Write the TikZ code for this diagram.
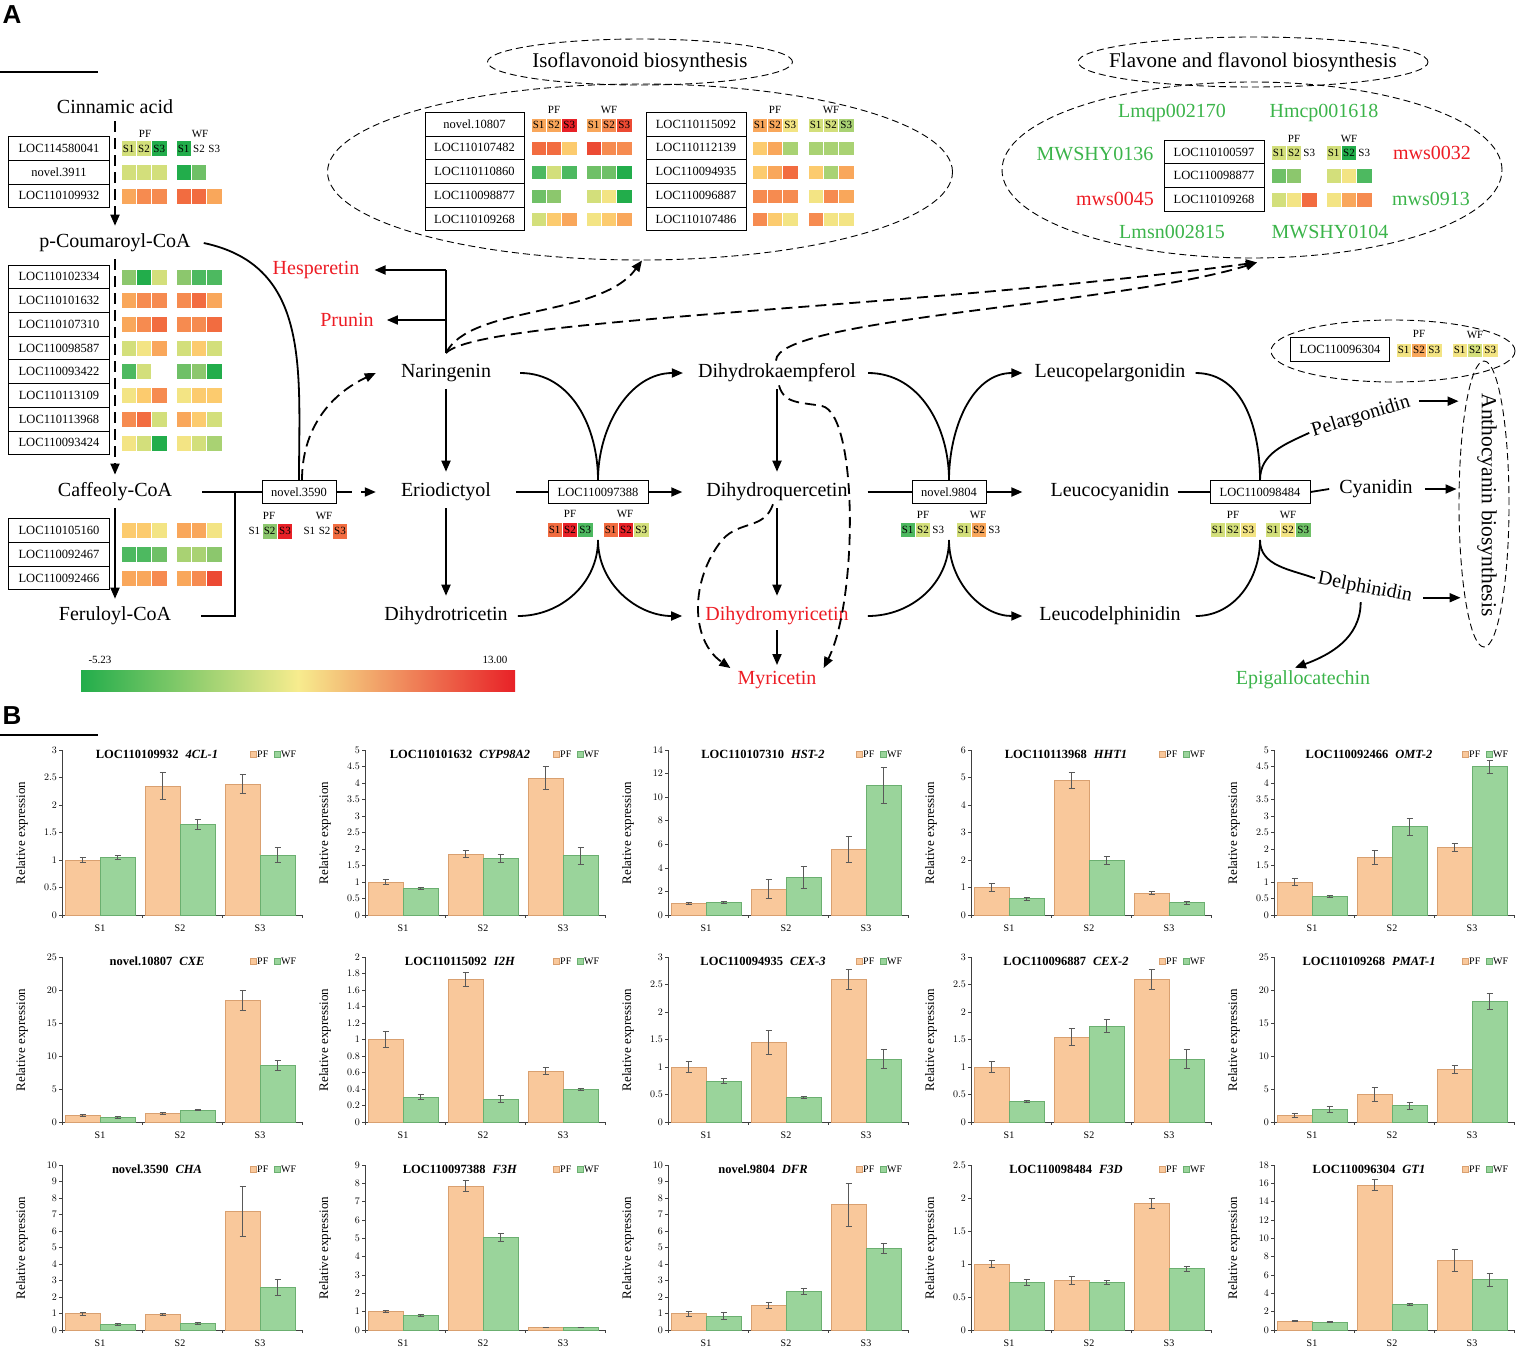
\documentclass[tikz,border=0pt]{standalone}
\usepackage{fontspec}
\setmainfont{Liberation Serif}
\setsansfont{Liberation Sans}
\usetikzlibrary{arrows.meta,shapes.geometric,positioning}
% heat map colours
\definecolor{hgA}{HTML}{22AD4B}
\definecolor{hgB}{HTML}{4DB960}
\definecolor{hgC}{HTML}{6FC067}
\definecolor{hgD}{HTML}{8CC76D}
\definecolor{hgE}{HTML}{A9D273}
\definecolor{hyg}{HTML}{D3DF7B}
\definecolor{hyl}{HTML}{F3E484}
\definecolor{hlo}{HTML}{FCCB6E}
\definecolor{hor}{HTML}{F9A75B}
\definecolor{hob}{HTML}{F68B50}
\definecolor{hrd}{HTML}{F26C40}
\definecolor{hre}{HTML}{EC4A33}
\definecolor{hrr}{HTML}{E82127}
\definecolor{cbmid}{HTML}{F7EC8E}
\definecolor{txtgreen}{HTML}{3BB44A}
\definecolor{txtred}{HTML}{ED1C24}
\definecolor{pffill}{HTML}{F9C89B}
\definecolor{pfline}{HTML}{D9A070}
\definecolor{wffill}{HTML}{9AD49B}
\definecolor{wfline}{HTML}{6BAF70}
\tikzset{
  cpd/.style={font=\fontsize{20}{22}\selectfont, inner sep=3pt},
  genebox/.style={draw, line width=0.9pt, minimum height=23.7pt, inner sep=0pt, font=\fontsize{12.5}{14}\selectfont},
  cellfont/.style={font=\fontsize{11}{12}\selectfont, inner sep=0pt},
  smalllab/.style={font=\fontsize{11}{12}\selectfont, inner sep=0pt},
  link/.style={line width=1.8pt},
  flow/.style={link, -{Triangle[length=11pt,width=9pt]}},
  dflow/.style={flow, dash pattern=on 11pt off 6pt},
  oval/.style={draw, ellipse, inner sep=0pt, line width=0.9pt, dash pattern=on 7pt off 4pt},
  axisline/.style={line width=0.6pt, black!75},
  ticklab/.style={font=\fontsize{10}{11}\selectfont, inner sep=0pt},
  charttitle/.style={font=\bfseries\fontsize{12.5}{13}\selectfont, inner sep=0pt},
  ylab/.style={font=\fontsize{13}{14}\selectfont, inner sep=0pt},
  pfbar/.style={fill=pffill, draw=pfline, line width=0.5pt},
  wfbar/.style={fill=wffill, draw=wfline, line width=0.5pt},
  errbar/.style={line width=0.6pt, black!65},
}
% heat map cells: x, y centre, height, colours
\newcommand{\hmcells}[4]{%
  \foreach \hc [count=\hi from 0] in {#4}
    \path[fill=\hc, draw=white, line width=0.5pt] ({#1+15.3*\hi},{#2-#3/2}) rectangle ++(15.3,#3);}
\newcommand{\hmtext}[4]{\hmcells{#1}{#2}{#3}{#4}%
  \foreach \hs [count=\hi from 0] in {S1,S2,S3}
    \node[cellfont] at ({#1+15.3*\hi+7.65},#2) {\hs};}
\newcommand{\hmrow}[6]{\hmcells{#1}{#3}{#4}{#5}\hmcells{#2}{#3}{#4}{#6}}
% column of gene boxes: prefix, x, first y, width, labels
\newcommand{\genecol}[5]{%
  \foreach \g [count=\gi from 0] in {#5}
    \node[genebox, minimum width=#4] (#1\gi) at (#2,{#3+23.7*\gi}) {\g};}
% bars: x0, base, ymax, offset, style, value/error list
\newcommand{\bars}[6]{%
  \foreach \bv/\be [count=\bi from 0] in {#6}{%
    \pgfmathsetmacro{\barx}{#1+#4+80*\bi}
    \draw[#5] (\barx,#2) rectangle (\barx+35,{#2-\bv*165/#3});
    \draw[errbar] (\barx+17.5,{#2-(\bv-\be)*165/#3}) -- (\barx+17.5,{#2-(\bv+\be)*165/#3});
    \draw[errbar] (\barx+14.5,{#2-(\bv+\be)*165/#3}) -- ++(6,0);
    \draw[errbar] (\barx+14.5,{#2-(\bv-\be)*165/#3}) -- ++(6,0);}}
% chart: x0, base, ymax, step, id, gene, PF, WF
\newcommand{\chart}[8]{%
  \draw[axisline] (#1,#2-165) -- (#1,#2) -- (#1+240,#2);
  \foreach \t in {0,#4,...,#3}{%
    \draw[axisline] (#1-3,{#2-\t*165/#3}) -- (#1,{#2-\t*165/#3});
    \node[ticklab, anchor=east] at (#1-5,{#2-\t*165/#3}) {\pgfmathprintnumber{\t}};}
  \foreach \k in {0,1,2,3} \draw[axisline] (#1+80*\k,#2) -- ++(0,3);
  \foreach \s [count=\k] in {S1,S2,S3} \node[ticklab] at (#1+80*\k-42,#2+13) {\s};
  \node[ylab, rotate=90] at (#1-40,#2-82) {Relative expression};
  \node[charttitle] at (#1+95,#2-161) {#5\hspace{7pt}\textit{#6}};
  \path[pfbar] (#1+188,#2-164) rectangle ++(6,6);
  \node[ticklab, anchor=west] at (#1+195,#2-161) {PF};
  \path[wfbar] (#1+212,#2-164) rectangle ++(6,6);
  \node[ticklab, anchor=west] at (#1+219,#2-161) {WF};
  \bars{#1}{#2}{#3}{3}{pfbar}{#7}
  \bars{#1}{#2}{#3}{38}{wfbar}{#8}}
\begin{document}
\begin{tikzpicture}[x=1pt,y=-1pt]
\useasboundingbox (0,0) rectangle (1517,1349);
% panel letters
\node[font=\sffamily\bfseries\fontsize{26}{28}\selectfont, inner sep=0pt] (lblA) at (12,15) {A};
\draw[line width=1.4pt] (0,72) -- (98,72);
\node[font=\sffamily\bfseries\fontsize{26}{28}\selectfont, inner sep=0pt] (lblB) at (12,716) {B};
\draw[line width=1.4pt] (0,735) -- (98,735);

% ---------- phenylpropanoid column
\node[cpd] (cin) at (115,107) {Cinnamic acid};
\node[cpd] (pcou) at (115,243) {p-Coumaroyl-CoA};
\node[cpd] (caf) at (115,492) {Caffeoly-CoA};
\node[cpd] (fer) at (115,616) {Feruloyl-CoA};
\draw[dflow] ([yshift=-4pt]cin.south) -- ([yshift=5pt]pcou.north);
\draw[dflow] ([yshift=-4pt]pcou.south) -- ([yshift=5pt]caf.north);
\draw[flow] ([yshift=-4pt]caf.south) -- ([yshift=5pt]fer.north);

\genecol{cg}{59}{148.5}{101pt}{LOC114580041,novel.3911,LOC110109932}
\node[smalllab] (cpf) at (145,134) {PF};
\node[smalllab] (cwf) at (200,134) {WF};
\hmtext{121}{148.5}{16}{hyg,hyg,hgA}
\hmtext{176}{148.5}{16}{hgA,none,none}
\hmrow{121}{176}{172.2}{16}{hyg,hyg,hyg}{hgA,hgC,none}
\hmrow{121}{176}{195.9}{16}{hor,hob,hob}{hrd,hrd,hor}

\genecol{pg}{59}{276.9}{101pt}{LOC110102334,LOC110101632,LOC110107310,LOC110098587,LOC110093422,LOC110113109,LOC110113968,LOC110093424}
\hmrow{121}{176}{276.9}{16}{hgD,hgA,hyg}{hgD,hgB,hgB}
\hmrow{121}{176}{300.6}{16}{hor,hob,hob}{hob,hrd,hor}
\hmrow{121}{176}{324.3}{16}{hor,hob,hrd}{hob,hob,hrd}
\hmrow{121}{176}{348.0}{16}{hyg,hyl,hor}{hyg,hlo,hyg}
\hmrow{121}{176}{371.7}{16}{hgB,hyg,none}{hgC,hgD,hgA}
\hmrow{121}{176}{395.4}{16}{hyl,hlo,hob}{hyl,hlo,hlo}
\hmrow{121}{176}{419.1}{16}{hob,hrd,hyg}{hor,hlo,hyg}
\hmrow{121}{176}{442.8}{16}{hyl,hyg,hgA}{hyl,hyg,hgE}

\genecol{fg}{59}{530.5}{101pt}{LOC110105160,LOC110092467,LOC110092466}
\hmrow{121}{176}{530.5}{16}{hlo,hlo,hyl}{hor,hor,hyl}
\hmrow{121}{176}{554.2}{16}{hgB,hgB,hgC}{hgE,hgE,hgD}
\hmrow{121}{176}{577.9}{16}{hor,hor,hob}{hor,hob,hre}

% ---------- enzyme boxes on the main route
\node[genebox, minimum width=74pt, minimum height=23pt] (e1) at (299,492) {novel.3590};
\node[genebox, minimum width=100pt, minimum height=23pt] (e2) at (598,492) {LOC110097388};
\node[genebox, minimum width=74pt, minimum height=23pt] (e3) at (949,492) {novel.9804};
\node[genebox, minimum width=100pt, minimum height=23pt] (e4) at (1260,492) {LOC110098484};
\coordinate (jn) at (235,492);
\draw[link] ([xshift=27pt]caf.east) -- (e1.west);
\draw[link] ([xshift=27pt]fer.east) -| (jn);
\draw[link] ([xshift=10pt]pcou.east) to[out=-12,in=90,looseness=1.1] (e1.north);

\node[smalllab] (e1pf) at (269,516) {PF};
\node[smalllab] (e1wf) at (324,516) {WF};
\hmtext{246.7}{531}{16}{none,hgD,hrr}
\hmtext{301.7}{531}{16}{none,none,hrd}
\node[smalllab] (e2pf) at (570,514) {PF};
\node[smalllab] (e2wf) at (625,514) {WF};
\hmtext{547}{530}{15}{hrd,hrr,hgB}
\hmtext{603}{530}{15}{hrd,hrr,hyg}
\node[smalllab] (e3pf) at (923,515) {PF};
\node[smalllab] (e3wf) at (978,515) {WF};
\hmtext{900}{530}{15}{hgB,hyg,none}
\hmtext{956}{530}{15}{hyg,hor,none}
\node[smalllab] (e4pf) at (1233,515) {PF};
\node[smalllab] (e4wf) at (1288,515) {WF};
\hmtext{1210}{530}{15}{hyg,hyg,hyl}
\hmtext{1265}{530}{15}{hyg,hyl,hgC}

% ---------- flavonoid compounds
\node[cpd] (nar) at (446,373) {Naringenin};
\node[cpd] (eri) at (446,492) {Eriodictyol};
\node[cpd] (dtr) at (446,616) {Dihydrotricetin};
\node[cpd, text=txtred] (hes) at (316,270) {Hesperetin};
\node[cpd, text=txtred] (pru) at (347,320) {Prunin};
\node[cpd] (dhk) at (777,373) {Dihydrokaempferol};
\node[cpd] (dhq) at (777,492) {Dihydroquercetin};
\node[cpd, text=txtred] (dhm) at (777,616) {Dihydromyricetin};
\node[cpd, text=txtred] (myr) at (777,680) {Myricetin};
\node[cpd] (lpg) at (1110,373) {Leucopelargonidin};
\node[cpd] (lcy) at (1110,492) {Leucocyanidin};
\node[cpd] (ldp) at (1110,616) {Leucodelphinidin};
\node[cpd, rotate=17] (pel) at (1361,417) {Pelargonidin};
\node[cpd] (cya) at (1376,489) {Cyanidin};
\node[cpd, rotate=-11] (del) at (1365,588) {Delphinidin};
\node[cpd, text=txtgreen] (egc) at (1303,680) {Epigallocatechin};

\coordinate (nartop) at (446,353);
\coordinate (hesbr) at (446,270);
\coordinate (prubr) at (446,320);
\draw[link] (nartop) -- (hesbr);
\draw[flow] (hesbr) -- ([xshift=12pt]hes.east);
\draw[flow] (prubr) -- ([xshift=10pt]pru.east);

\draw[dflow, dash pattern=on 16pt off 9pt] (e1.east) -- ([xshift=-22pt]eri.west);
\draw[dflow] ([xshift=3pt]e1.north) to[out=90,in=205] ([xshift=-22pt]nar.west);
\draw[flow, shorten <=4pt, shorten >=8pt] (nar.south) -- (eri.north);
\draw[flow, shorten <=4pt, shorten >=8pt] (eri.south) -- (dtr.north);

% second box
\coordinate (e2s) at (598,540);
\draw[link] ([xshift=22pt]eri.east) -- (e2.west);
\draw[flow] (e2.east) -- ([xshift=-21pt]dhq.west);
\draw[link] ([xshift=26pt]nar.east) to[out=0,in=90] (e2.north);
\draw[flow] (e2.north) to[out=90,in=180] ([xshift=-12pt]dhk.west);
\draw[link] ([xshift=7pt]dtr.east) to[out=0,in=-90] (e2s);
\draw[flow] (e2s) to[out=-90,in=180] ([xshift=-20pt]dhm.west);

\draw[flow, shorten <=4pt, shorten >=8pt] (dhk.south) -- (dhq.north);
\draw[flow, shorten <=4pt, shorten >=8pt] (dhq.south) -- (dhm.north);
\draw[flow, shorten <=2pt, shorten >=3pt] (dhm.south) -- (myr.north);
\draw[dflow] ([xshift=2pt]dhk.south) .. controls (784,404) and (800,402) .. (822,406)
  .. controls (858,414) and (858,600) .. ([xshift=4pt]myr.north east);
\draw[dflow] ([xshift=-4pt]dhq.south) .. controls (764,530) and (740,520) .. (722,540)
  .. controls (690,580) and (690,640) .. ([xshift=-4pt]myr.north west);

% third box
\coordinate (e3s) at (949,540);
\draw[link] ([xshift=17pt]dhq.east) -- (e3.west);
\draw[flow] (e3.east) -- ([xshift=-25pt]lcy.west);
\draw[link] ([xshift=9pt]dhk.east) to[out=0,in=90] (e3.north);
\draw[flow] (e3.north) to[out=90,in=180] ([xshift=-9pt]lpg.west);
\draw[link] ([xshift=16pt]dhm.east) to[out=0,in=-90] (e3s);
\draw[flow] (e3s) to[out=-90,in=180] ([xshift=-14pt]ldp.west);

% fourth box
\coordinate (e4s) at (1260,540);
\draw[link] ([xshift=5pt]lcy.east) -- (e4.west);
\draw[link] (e4.east) -- ([xshift=-7pt]cya.west);
\draw[link] ([xshift=7pt]lpg.east) to[out=0,in=90] (e4.north);
\draw[link] (e4.north) to[out=90,in=205] (pel.west);
\draw[link] ([xshift=12pt]ldp.east) to[out=0,in=-90] (e4s);
\draw[link] (e4s) to[out=-90,in=160] (del.west);
\draw[flow] ([xshift=-2pt,yshift=-2pt]del.south) to[out=-90,in=20] ([xshift=-8pt]egc.north);

% ---------- anthocyanin
\node[oval, minimum width=50pt, minimum height=286pt] (antho) at (1484,504) {};
\node[cpd, rotate=-90, font=\fontsize{21.5}{23}\selectfont] (anthl) at (1487,505) {Anthocyanin biosynthesis};
\draw[flow] ([xshift=6pt]pel.east) -- (antho.west |- pel.east);
\draw[flow] ([xshift=9pt]cya.east) -- ([xshift=-2pt]antho.west |- cya.east);
\draw[flow] ([xshift=8pt]del.east) -- ([xshift=2pt]antho.west |- del.east);
\node[oval, minimum width=244pt, minimum height=62pt] (antt) at (1393,351) {};
\node[genebox, minimum width=99pt, minimum height=24pt] (ag0) at (1340,349) {LOC110096304};
\node[smalllab] (apf) at (1419,334) {PF};
\node[smalllab] (awf) at (1475,335) {WF};
\hmtext{1396}{350}{14}{hyl,hor,hyl}
\hmtext{1452}{350}{14}{hyl,hyg,hyl}

% ---------- isoflavonoid
\node[oval, minimum width=305pt, minimum height=46pt] (isot) at (640,62) {};
\node[cpd, font=\fontsize{21}{23}\selectfont] (isol) at (640,62) {Isoflavonoid biosynthesis};
\node[oval, minimum width=625pt, minimum height=176pt] (iso) at (640,172) {};
\genecol{ig}{474.5}{124.2}{99pt}{novel.10807,LOC110107482,LOC110110860,LOC110098877,LOC110109268}
\genecol{jg}{696}{124.2}{100pt}{LOC110115092,LOC110112139,LOC110094935,LOC110096887,LOC110107486}
\node[smalllab] (ipf) at (554,110) {PF};
\node[smalllab] (iwf) at (609,110) {WF};
\node[smalllab] (jpf) at (775,110) {PF};
\node[smalllab] (jwf) at (831,110) {WF};
\hmtext{531}{125}{14}{hor,hor,hrr}
\hmtext{586}{125}{14}{hor,hob,hre}
\hmrow{531}{586}{148.4}{14}{hrd,hrd,hlo}{hre,hob,hob}
\hmrow{531}{586}{172.1}{14}{hgB,hyg,hgB}{hgC,hgC,hgA}
\hmrow{531}{586}{195.8}{14}{hgC,hgD,none}{hyg,hyl,hgA}
\hmrow{531}{586}{219.5}{14}{hyg,hlo,hor}{hyl,hlo,hor}
\hmtext{752}{125}{14}{hor,hor,hyl}
\hmtext{808}{125}{14}{hyg,hyg,hgE}
\hmrow{752}{808}{148.4}{14}{hlo,hor,hgE}{hgE,hgE,hgE}
\hmrow{752}{808}{172.1}{14}{hlo,hor,hrd}{hlo,hgE,hor}
\hmrow{752}{808}{195.8}{14}{hob,hob,hob}{hyl,hob,hor}
\hmrow{752}{808}{219.5}{14}{hob,hlo,hyl}{hob,hyl,hyl}

% ---------- flavone and flavonol
\node[oval, minimum width=350pt, minimum height=50pt] (flvt) at (1253,62) {};
\node[cpd, font=\fontsize{21}{23}\selectfont] (flvl) at (1253,62) {Flavone and flavonol biosynthesis};
\node[oval, minimum width=500pt, minimum height=176pt] (flv) at (1252,170) {};
\genecol{kg}{1214}{152}{100pt}{LOC110100597,LOC110098877,LOC110109268}
\node[smalllab] (kpf) at (1294,139) {PF};
\node[smalllab] (kwf) at (1349,139) {WF};
\hmtext{1271}{152.5}{15}{hyg,hyg,none}
\hmtext{1326}{152.5}{15}{hyg,hgA,none}
\hmrow{1271}{1326}{176}{15}{hgC,hgD,none}{hyg,hyl,hgB}
\hmrow{1271}{1326}{200}{15}{hyg,hyl,hrd}{hyl,hor,hob}
\node[cpd, text=txtgreen] (m1) at (1172,113) {Lmqp002170};
\node[cpd, text=txtgreen] (m2) at (1324,113) {Hmcp001618};
\node[cpd, text=txtgreen] (m3) at (1095,154) {MWSHY0136};
\node[cpd, text=txtred] (m4) at (1432,153) {mws0032};
\node[cpd, text=txtred] (m5) at (1115,199) {mws0045};
\node[cpd, text=txtgreen] (m6) at (1431,199) {mws0913};
\node[cpd, text=txtgreen] (m7) at (1172,232) {Lmsn002815};
\node[cpd, text=txtgreen] (m8) at (1330,232) {MWSHY0104};

% ---------- dashed routes to the side pathways
\draw[dflow] (nartop) .. controls (470,305) and (600,318) .. ([xshift=2pt]iso.south);
\draw[dflow] (nartop) .. controls (480,318) and (900,310) .. ([xshift=5pt,yshift=-4pt]flv.south);
\draw[dflow] ([xshift=-1pt]dhk.north) .. controls (776,318) and (1120,305) .. ([xshift=5pt,yshift=-4pt]flv.south);

% ---------- colour scale
\shade[left color=hgA, right color=hrr, middle color=cbmid] (81,670) rectangle (515,691);
\node[smalllab] (cmin) at (100,660) {-5.23};
\node[smalllab] (cmax) at (495,660) {13.00};

% ---------- B: qRT-PCR
\chart{62}{915}{3}{0.5}{LOC110109932}{4CL-1}{1.0/0.05,2.35/0.25,2.38/0.17}{1.05/0.04,1.65/0.09,1.09/0.14}
\chart{365}{915}{5}{0.5}{LOC110101632}{CYP98A2}{1.0/0.07,1.85/0.1,4.15/0.35}{0.8/0.03,1.72/0.12,1.8/0.25}
\chart{668}{915}{14}{2}{LOC110107310}{HST-2}{1.0/0.1,2.2/0.8,5.6/1.1}{1.1/0.1,3.2/0.9,11.0/1.5}
\chart{971}{915}{6}{1}{LOC110113968}{HHT1}{1.0/0.15,4.9/0.3,0.8/0.05}{0.6/0.05,2.0/0.15,0.45/0.05}
\chart{1274}{915}{5}{0.5}{LOC110092466}{OMT-2}{1.0/0.1,1.75/0.2,2.05/0.12}{0.58/0.03,2.68/0.25,4.5/0.2}
\chart{62}{1122}{25}{5}{novel.10807}{CXE}{1.0/0.2,1.3/0.15,18.5/1.5}{0.7/0.1,1.8/0.1,8.6/0.8}
\chart{365}{1122}{2}{0.2}{LOC110115092}{I2H}{1.0/0.1,1.73/0.09,0.62/0.04}{0.3/0.03,0.28/0.04,0.4/0.01}
\chart{668}{1122}{3}{0.5}{LOC110094935}{CEX-3}{1.0/0.1,1.45/0.22,2.6/0.18}{0.75/0.05,0.45/0.02,1.15/0.18}
\chart{971}{1122}{3}{0.5}{LOC110096887}{CEX-2}{1.0/0.1,1.55/0.15,2.6/0.18}{0.37/0.02,1.75/0.12,1.15/0.18}
\chart{1274}{1122}{25}{5}{LOC110109268}{PMAT-1}{1.0/0.3,4.2/1.0,8.0/0.6}{1.9/0.5,2.5/0.5,18.3/1.2}
\chart{62}{1330}{10}{1}{novel.3590}{CHA}{1.0/0.1,0.95/0.05,7.2/1.5}{0.35/0.05,0.4/0.05,2.6/0.5}
\chart{365}{1330}{9}{1}{LOC110097388}{F3H}{1.0/0.05,7.85/0.3,0.15/0.02}{0.8/0.05,5.05/0.2,0.15/0.02}
\chart{668}{1330}{10}{1}{novel.9804}{DFR}{1.0/0.15,1.5/0.2,7.6/1.3}{0.85/0.2,2.35/0.2,4.95/0.3}
\chart{971}{1330}{2.5}{0.5}{LOC110098484}{F3D}{1.0/0.05,0.75/0.06,1.92/0.07}{0.72/0.05,0.73/0.03,0.93/0.04}
\chart{1274}{1330}{18}{2}{LOC110096304}{GT1}{1.0/0.1,15.8/0.6,7.6/1.2}{0.9/0.1,2.8/0.1,5.5/0.7}
\end{tikzpicture}
\end{document}
